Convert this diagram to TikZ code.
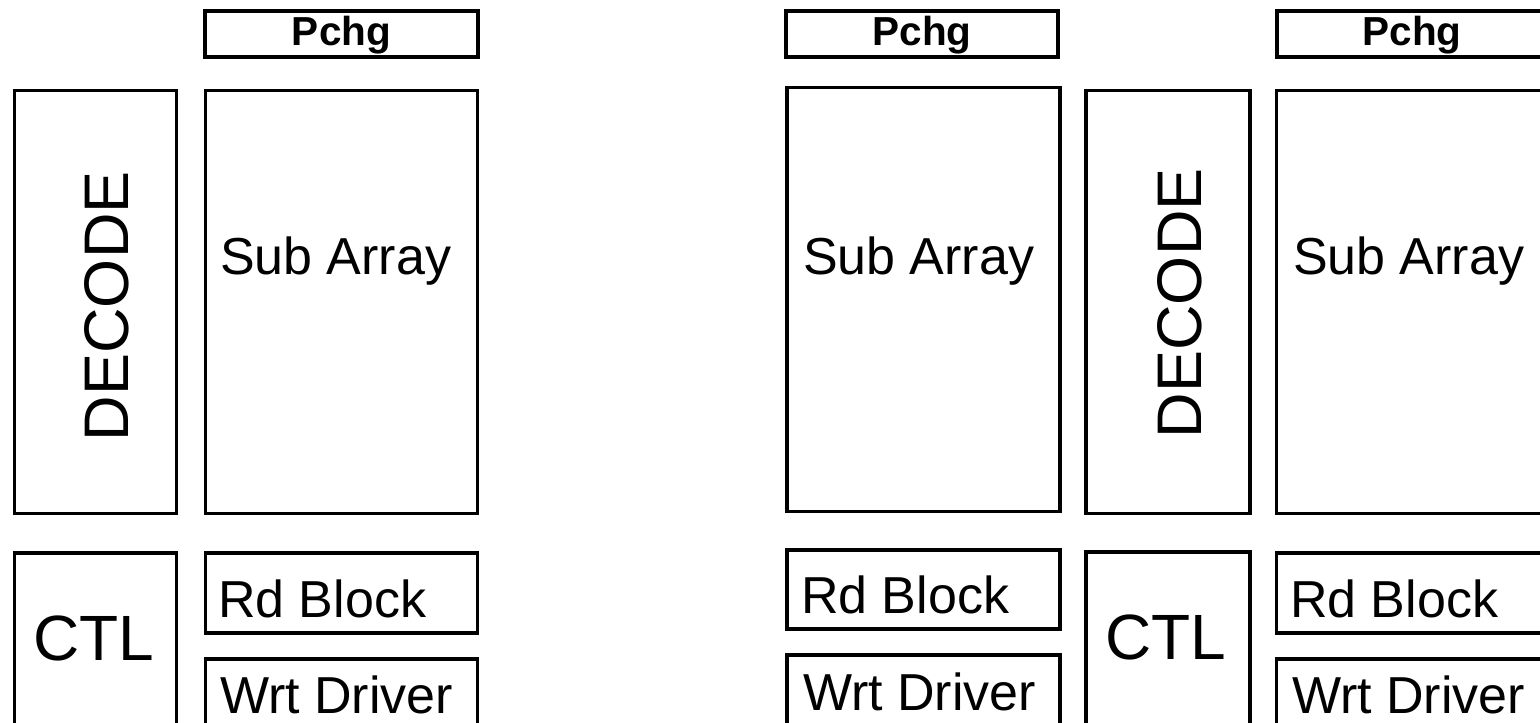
\documentclass[tikz,border=0pt]{standalone}
\usepackage{fontspec}
\setmainfont{Liberation Sans}
\tikzset{
  blk/.style={draw=black, line width=3.2pt, rectangle, inner sep=0pt, outer sep=0pt, anchor=north west},
  lbl/.style={inner sep=0pt, outer sep=0pt, anchor=base west, font=\fontsize{52}{60}\selectfont},
  bigl/.style={inner sep=0pt, outer sep=0pt, font=\fontsize{64}{72}\selectfont},
  pch/.style={inner sep=0pt, outer sep=0pt, anchor=base, font=\fontsize{40.5}{46}\selectfont\bfseries},
}
\begin{document}
\begin{tikzpicture}[x=1pt,y=-1pt]
\useasboundingbox (0,0) rectangle (1540,723);
\clip (0,0) rectangle (1540,723);
% left group
\node[blk, minimum width=273, minimum height=46] (pchgA) at (205,11) {};
\node[blk, minimum width=162, minimum height=423] (decA) at (14.5,90.5) {};
\node[blk, minimum width=272, minimum height=423] (saA) at (205.5,90.5) {};
\node[blk, minimum width=162, minimum height=200] (ctlA) at (14.5,553) {};
\node[blk, minimum width=272, minimum height=80] (rdA) at (205.5,553) {};
\node[blk, minimum width=272, minimum height=100] (wdA) at (205.5,659) {};
% right group
\node[blk, minimum width=272, minimum height=46] (pchgB) at (786,11) {};
\node[blk, minimum width=273, minimum height=424] (saB) at (787,87.5) {};
\node[blk, minimum width=164, minimum height=423] (decB) at (1086,90.5) {};
\node[blk, minimum width=300, minimum height=46] (pchgC) at (1277,11) {};
\node[blk, minimum width=300, minimum height=423] (saC) at (1276.5,90.5) {};
\node[blk, minimum width=273, minimum height=79] (rdB) at (787,550) {};
\node[blk, minimum width=273, minimum height=100] (wdB) at (787,655) {};
\node[blk, minimum width=164, minimum height=200] (ctlB) at (1086,552) {};
\node[blk, minimum width=300, minimum height=80] (rdC) at (1276.5,553) {};
\node[blk, minimum width=300, minimum height=100] (wdC) at (1276.5,659) {};
% texts
\node[pch] (tpA) at (341.5,45) {Pchg};
\node[pch] (tpB) at (922,45) {Pchg};
\node[pch] (tpC) at (1412,45) {Pchg};
\node[lbl] (tsA) at (220,274) {Sub Array};
\node[lbl] (tsB) at (803,274) {Sub Array};
\node[lbl] (tsC) at (1293,274) {Sub Array};
\node[lbl] (trA) at (218,617) {Rd Block};
\node[lbl] (trB) at (801,613) {Rd Block};
\node[lbl] (trC) at (1290,617) {Rd Block};
\node[lbl] (twA) at (220,713) {Wrt Driver};
\node[lbl] (twB) at (803,710) {Wrt Driver};
\node[lbl] (twC) at (1292,713) {Wrt Driver};
\node[bigl, anchor=base] (tcA) at (93.5,660) {CTL};
\node[bigl, anchor=base] (tcB) at (1165.5,659) {CTL};
\node[bigl, rotate=90, anchor=base west, font=\fontsize{63}{70}\selectfont] (tdA) at (128,441) {DECODE};
\node[bigl, rotate=90, anchor=base west, font=\fontsize{63}{70}\selectfont] (tdB) at (1201,438) {DECODE};
\end{tikzpicture}
\end{document}
